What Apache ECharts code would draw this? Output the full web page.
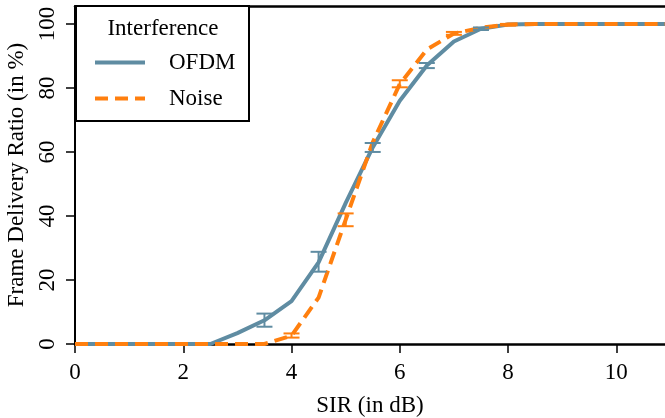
<!DOCTYPE html>
<html>
<head>
<meta charset="utf-8">
<script src="https://cdn.jsdelivr.net/npm/echarts@6/dist/echarts.min.js"></script>
<style>html,body{margin:0;padding:0;background:#fff}#c{width:665px;height:418px}</style>
</head>
<body>
<div id="c"></div>
<script>
// ---- data ----
const sir = [0,0.5,1,1.5,2,2.5,3,3.5,4,4.5,5,5.5,6,6.5,7,7.5,8,8.5,9,9.5,10,10.5,11];
const ofdm = [0,0,0,0,0,0,3.4,7.4,13.4,25.5,44,61.4,76,87,94.5,98.5,99.8,100,100,100,100,100,100];
const noise = [0,0,0,0,0,0,0,0,2.6,14.5,38.8,63,81.2,92,97,98.8,99.8,100,100,100,100,100,100];
const ofdmErrX = [3.5,4.5,5.5,6.5,7.5];
const ofdmErrLow = [5.4,22.6,60.0,86.2,98.1];
const ofdmErrHigh = [9.5,28.8,62.8,87.8,98.9];
const noiseErrX = [4,5,6,7,8];
const noiseErrLow = [2.0,36.8,80.2,96.6,99.5];
const noiseErrHigh = [3.3,40.8,82.4,97.5,100];
const xTicks = [0,2,4,6,8,10];
const yTicks = [0,20,40,60,80,100];
const seriesNames = ['OFDM','Noise'];
const legendTitle = 'Interference';
const xName = 'SIR (in dB)';
const yName = 'Frame Delivery Ratio (in %)';

const BLUE = '#5f8ca2', ORANGE = '#ff7f0e';
const FONT = 'Liberation Serif';
const FS = 23;

function errSeries(xs, lo, hi, color) {
  return {
    type: 'custom',
    xAxisIndex: 0, yAxisIndex: 0,
    z: 4,
    silent: true,
    data: xs.map((x, i) => [x, lo[i], hi[i]]),
    renderItem(params, api) {
      const x = api.value(0), l = api.value(1), h = api.value(2);
      const p1 = api.coord([x, l]), p2 = api.coord([x, h]);
      const w = 8;
      const st = {stroke: color, lineWidth: 2};
      return {type: 'group', children: [
        {type: 'line', shape: {x1: p1[0], y1: p1[1], x2: p2[0], y2: p2[1]}, style: st},
        {type: 'line', shape: {x1: p1[0]-w, y1: p1[1], x2: p1[0]+w, y2: p1[1]}, style: st},
        {type: 'line', shape: {x1: p2[0]-w, y1: p2[1], x2: p2[0]+w, y2: p2[1]}, style: st}
      ]};
    }
  };
}

const chart = echarts.init(document.getElementById('c'), null, {renderer: 'canvas'});
const XMAX = 10.9, YMAX = 105.6;
chart.setOption({
  animation: false,
  backgroundColor: '#fff',
  textStyle: {fontFamily: FONT},
  grid: {left: 75, right: 0, top: 6, bottom: 74, outerBoundsMode: 'none', containLabel: false},
  xAxis: [{
    type: 'value', min: 0, max: XMAX, position: 'bottom',
    name: xName, nameLocation: 'middle', nameGap: 50,
    nameTextStyle: {fontFamily: FONT, fontSize: FS, color: '#000'},
    axisLine: {show: true, onZero: false, lineStyle: {color: '#000', width: 2.5}},
    axisTick: {show: true, length: 9, lineStyle: {color: '#000', width: 1.5}, customValues: xTicks},
    axisLabel: {fontFamily: FONT, fontSize: FS, color: '#000', margin: 17, customValues: xTicks},
    splitLine: {show: false}
  }, {
    type: 'value', min: 0, max: XMAX, position: 'top',
    axisLine: {show: true, onZero: false, lineStyle: {color: '#000', width: 2.5}},
    axisTick: {show: false}, axisLabel: {show: false}, splitLine: {show: false}
  }],
  yAxis: {
    type: 'value', min: 0, max: YMAX,
    name: yName, nameLocation: 'middle', nameGap: 43,
    nameTextStyle: {fontFamily: FONT, fontSize: FS, color: '#000'},
    axisLine: {show: true, onZero: false, lineStyle: {color: '#000', width: 2}},
    axisTick: {show: true, length: 9, lineStyle: {color: '#000', width: 1.5}, customValues: yTicks},
    axisLabel: {fontFamily: FONT, fontSize: FS, color: '#000', margin: 16, rotate: 90, customValues: yTicks},
    splitLine: {show: false}
  },
  legend: {
    data: seriesNames,
    orient: 'vertical',
    left: 93, top: 51,
    padding: 0,
    itemWidth: 50, itemHeight: 22, itemGap: 13,
    z: 110,
    itemStyle: {opacity: 0},
    lineStyle: {width: 4, opacity: 1},
    textStyle: {fontFamily: FONT, fontSize: FS, color: '#000', lineHeight: 22, padding: [0, 0, 0, 19]},
    selectedMode: false
  },
  graphic: [
    {type: 'rect', z: 100, shape: {x: 76, y: 6, width: 173, height: 115},
     style: {fill: '#fff', stroke: '#000', lineWidth: 2}},
    {type: 'text', z: 110, x: 163, y: 29,
     style: {text: legendTitle, font: FS + 'px "' + FONT + '"', fill: '#000', align: 'center', verticalAlign: 'middle'}}
  ],
  series: [
    {name: seriesNames[0], type: 'line', xAxisIndex: 0, data: sir.map((x, i) => [x, ofdm[i]]),
     symbol: 'none', clip: true, z: 2,
     lineStyle: {color: BLUE, width: 4}, itemStyle: {color: BLUE}},
    {name: seriesNames[1], type: 'line', xAxisIndex: 0, data: sir.map((x, i) => [x, noise[i]]),
     symbol: 'none', clip: true, z: 3,
     lineStyle: {color: ORANGE, width: 4, type: [13, 7]}, itemStyle: {color: ORANGE}},
    errSeries(ofdmErrX, ofdmErrLow, ofdmErrHigh, BLUE),
    errSeries(noiseErrX, noiseErrLow, noiseErrHigh, ORANGE)
  ]
});
</script>
</body>
</html>
